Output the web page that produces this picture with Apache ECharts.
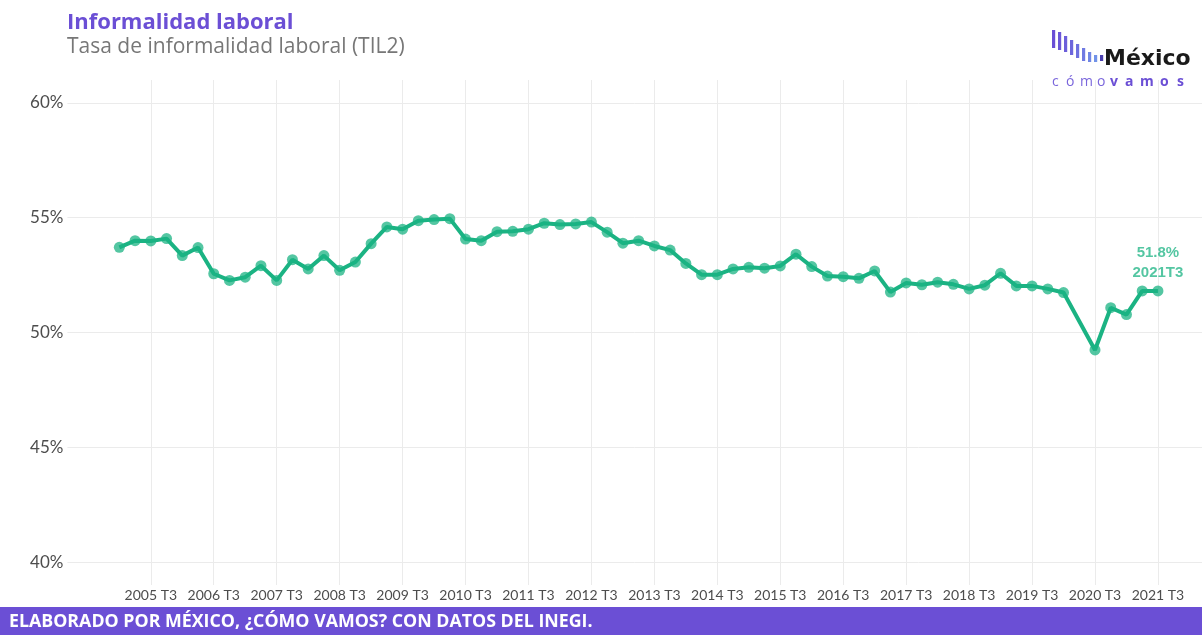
<!DOCTYPE html>
<html><head><meta charset="utf-8">
<script src="https://cdn.jsdelivr.net/npm/echarts@6/dist/echarts.min.js"></script>
<style>html,body{margin:0;padding:0;background:#fff}#c{width:1202px;height:635px}</style>
</head><body><div id="c"></div>
<script>
const quarters = [
 '2005 T1','2005 T2','2005 T3','2005 T4','2006 T1','2006 T2','2006 T3','2006 T4',
 '2007 T1','2007 T2','2007 T3','2007 T4','2008 T1','2008 T2','2008 T3','2008 T4',
 '2009 T1','2009 T2','2009 T3','2009 T4','2010 T1','2010 T2','2010 T3','2010 T4',
 '2011 T1','2011 T2','2011 T3','2011 T4','2012 T1','2012 T2','2012 T3','2012 T4',
 '2013 T1','2013 T2','2013 T3','2013 T4','2014 T1','2014 T2','2014 T3','2014 T4',
 '2015 T1','2015 T2','2015 T3','2015 T4','2016 T1','2016 T2','2016 T3','2016 T4',
 '2017 T1','2017 T2','2017 T3','2017 T4','2018 T1','2018 T2','2018 T3','2018 T4',
 '2019 T1','2019 T2','2019 T3','2019 T4','2020 T1','2020 T2','2020 T3','2020 T4',
 '2021 T1','2021 T2','2021 T3'
];
const values = [
 53.71,54.00,53.99,54.09, 53.35,53.70,52.56,52.27,
 52.41,52.91,52.27,53.17, 52.77,53.35,52.71,53.07,
 53.87,54.60,54.50,54.87, 54.92,54.96,54.07,54.00,
 54.39,54.41,54.50,54.76, 54.70,54.73,54.81,54.37,
 53.89,54.00,53.77,53.59, 53.01,52.52,52.52,52.77,
 52.84,52.80,52.90,53.41, 52.87,52.46,52.43,52.36,
 52.68,51.76,52.16,52.08, 52.19,52.10,51.90,52.06,
 52.58,52.03,52.03,51.90, 51.74,null,49.24,51.08,
 50.78,51.81,51.81
];
const tickLabels = ['2005 T3','2006 T3','2007 T3','2008 T3','2009 T3','2010 T3','2011 T3','2012 T3','2013 T3','2014 T3','2015 T3','2016 T3','2017 T3','2018 T3','2019 T3','2020 T3','2021 T3'];
const yTicks = [40,45,50,55,60];
const lastLabel = ['51.8%','2021T3'];

const GREEN = '#1bb383';
const PURPLE = '#6b4fd5';
const xTickIdx = tickLabels.map(l => quarters.indexOf(l));
const data = [];
quarters.forEach((q, i) => { if (values[i] != null) data.push([i, values[i]]); });
const lastI = data.length - 1;
const seriesData = data.map((d, k) => k === lastI ? {
  value: d,
  label: {
    show: true, position: 'top', distance: 3,
    formatter: lastLabel.join('\n'),
    color: GREEN, fontFamily: 'Liberation Sans', fontWeight: 'bold', fontSize: 15, lineHeight: 20
  }
} : d);

// logo decoration
const logoBars = [];
const barDefs = [[1052,30,18],[1058,32,18],[1064,36,16],[1070,40,15],[1076,44,14],[1082,48,13],[1088,52,10],[1094,55,7],[1100,55,6]];
const barCols = ['#6a4fd6','#6b56d8','#6c5eda','#6d66dc','#6e70df','#6f7ae2','#7086e5','#7192e8','#4a3fb0'];
barDefs.forEach((b, i) => logoBars.push({type:'rect', shape:{x:b[0], y:b[1], width:3.2, height:b[2]}, style:{fill:barCols[i]}}));
const logoLetters = [['c',1052,false],['ó',1066,false],['m',1080,false],['o',1097,false],['v',1110,true],['a',1125,true],['m',1140,true],['o',1160,true],['s',1177,true]];
logoLetters.forEach(l => logoBars.push({type:'text', x:l[1], y:82, style:{text:l[0], fill: l[2] ? '#6b4fd5' : '#7a66dc', font:(l[2]?'bold ':'')+'14px "Open Sans"', textVerticalAlign:'middle'}}));

const chart = echarts.init(document.getElementById('c'), null, {renderer:'canvas'});
chart.setOption({
  animation: false,
  backgroundColor: '#ffffff',
  grid: { left: 67.4, top: 80, right: 0, height: 505, containLabel: false },
  xAxis: {
    type: 'value', min: -3.3, max: 68.8,
    axisLine: {show: false},
    axisTick: {show: false, customValues: xTickIdx},
    axisLabel: {customValues: xTickIdx, formatter: v => quarters[v], color: '#4d4d4d', fontFamily: 'Lato', fontSize: 14, margin: 3},
    splitLine: {show: true, lineStyle: {color: '#ebebeb', width: 1}}
  },
  yAxis: {
    type: 'value', min: 39, max: 61,
    axisLine: {show: false},
    axisTick: {show: false, customValues: yTicks},
    axisLabel: {customValues: yTicks, formatter: v => v + '%', color: '#4d4d4d', fontFamily: 'Lato', fontSize: 17, margin: 4},
    splitLine: {show: true, lineStyle: {color: '#ebebeb', width: 1}}
  },
  series: [{
    type: 'line', data: seriesData, connectNulls: true,
    lineStyle: {color: GREEN, width: 4},
    itemStyle: {color: GREEN, opacity: 0.75},
    symbol: 'circle', symbolSize: 11, showSymbol: true,
    emphasis: {disabled: true}, z: 3
  }],
  graphic: [
    {type:'text', left: 67, top: 12, style:{text:'Informalidad laboral', fill: PURPLE, font: 'bold 22px "Open Sans"'}},
    {type:'text', left: 67, top: 37, style:{text:'Tasa de informalidad laboral (TIL2)', fill: '#777777', font: '21px "Open Sans"'}},
    {type:'rect', shape:{x:0, y:607, width:1202, height:28}, style:{fill: PURPLE}},
    {type:'text', x: 9, y: 622, style:{text:'ELABORADO POR MÉXICO, ¿CÓMO VAMOS? CON DATOS DEL INEGI.', fill:'#ffffff', font:'bold 17.8px "Open Sans"', textVerticalAlign:'middle'}},
    ...logoBars,
    {type:'text', x: 1104, y: 70, style:{text:'México', fill:'#1a1a1a', font:'bold 22px "DejaVu Sans"', textVerticalAlign:'bottom'}}
  ]
});
</script></body></html>
